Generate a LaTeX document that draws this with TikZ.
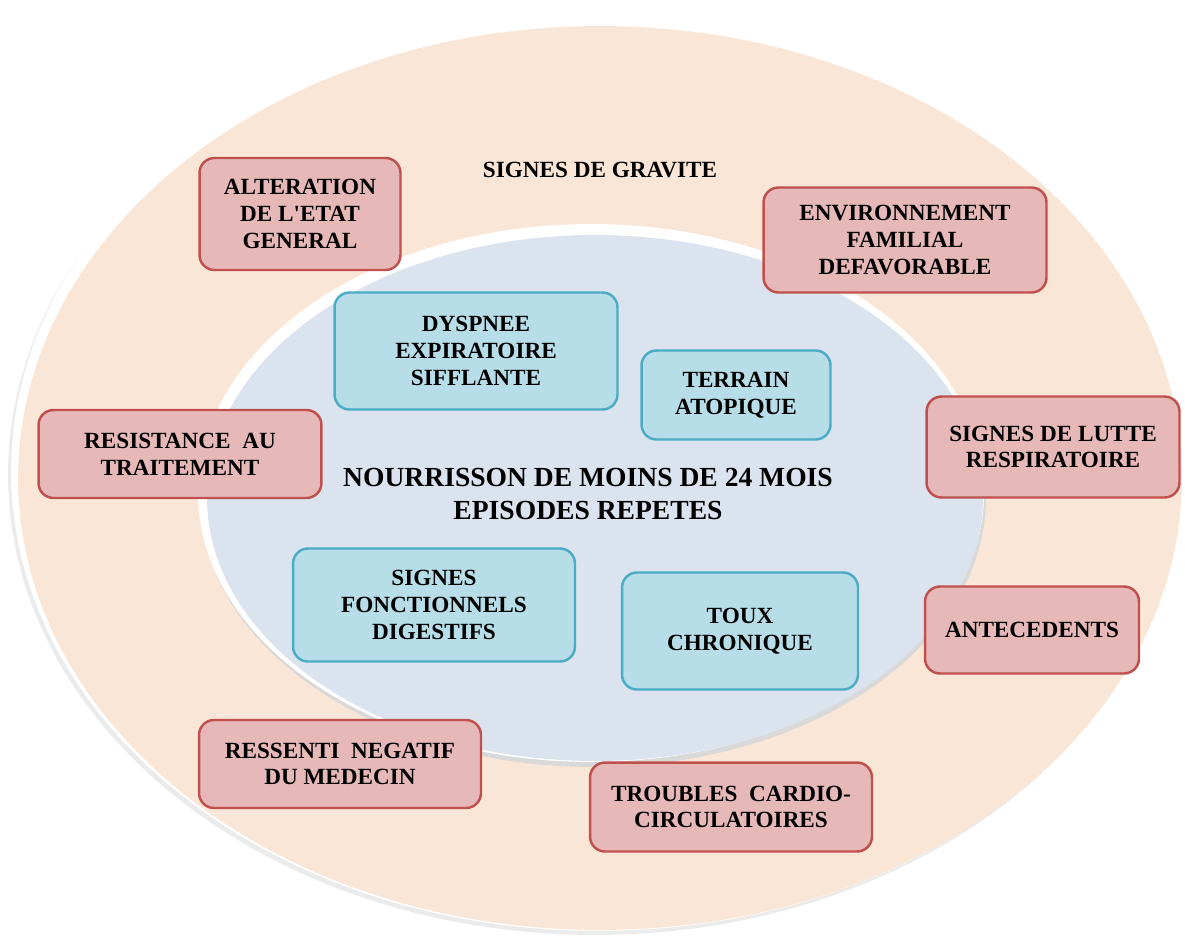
\documentclass[tikz,border=0pt]{standalone}
\usepackage{fontspec}
\setmainfont{Liberation Serif}
\usepackage{xcolor}

\definecolor{peche}{HTML}{FAE6D6}
\definecolor{grisbleu}{HTML}{DAE3EE}
\definecolor{rougefond}{HTML}{E6B9B8}
\definecolor{rougebord}{HTML}{C0504D}
\definecolor{bleufond}{HTML}{B7DEE8}
\definecolor{bleubord}{HTML}{4BACC6}

\begin{document}
\begin{tikzpicture}[x=0.02cm,y=-0.02cm,
  gravite/.style={draw=rougebord,fill=rougefond,line width=1.4pt,
    rounded corners=0.3cm,align=center,inner sep=2pt,
    font=\bfseries\fontsize{13.2}{15.2}\selectfont},
  signe/.style={draw=bleubord,fill=bleufond,line width=1.4pt,
    rounded corners=0.3cm,align=center,inner sep=2pt,
    font=\bfseries\fontsize{13.2}{15.2}\selectfont}]
 \useasboundingbox (0,0) rectangle (1185,939);
 \begin{scope}
  \fill[black!8] (595,475) ellipse [x radius=11.74cm, y radius=9.2cm];
  \fill[white] (598,471) ellipse [x radius=11.74cm, y radius=9.2cm];
  \fill[peche] (600,478) ellipse [x radius=11.64cm, y radius=9.04cm];
  \node[font=\bfseries\fontsize{13.2}{15}\selectfont] (titre) at (600,170) {SIGNES DE GRAVITE};
 \end{scope}
 \begin{scope}
  \fill[black!15] (593,498) ellipse [x radius=7.86cm, y radius=5.38cm];
  \fill[white] (591,493) ellipse [x radius=7.86cm, y radius=5.38cm];
  \fill[grisbleu] (595,498) ellipse [x radius=7.76cm, y radius=5.26cm];
  \node[align=center,font=\bfseries\fontsize{15.7}{18.8}\selectfont] (centre) at (588,494)
    {NOURRISSON DE MOINS DE 24 MOIS\\EPISODES REPETES};
 \end{scope}
 \node[gravite,minimum width=4.02cm,minimum height=2.24cm] (alteration) at (300,214) {ALTERATION\\DE L\textquotesingle ETAT\\GENERAL};
 \node[gravite,minimum width=5.66cm,minimum height=2.1cm] (environnement) at (905,240) {ENVIRONNEMENT\\FAMILIAL\\DEFAVORABLE};
 \node[gravite,minimum width=5.66cm,minimum height=1.76cm] (resistance) at (180,454) {RESISTANCE\ \ AU\\TRAITEMENT};
 \node[gravite,minimum width=5.06cm,minimum height=2.02cm] (lutte) at (1053,447) {SIGNES DE LUTTE\\RESPIRATOIRE};
 \node[gravite,minimum width=4.28cm,minimum height=1.74cm] (antecedents) at (1032,630) {ANTECEDENTS};
 \node[gravite,minimum width=5.64cm,minimum height=1.76cm] (ressenti) at (340,764) {RESSENTI\ \ NEGATIF\\DU MEDECIN};
 \node[gravite,minimum width=5.64cm,minimum height=1.78cm] (troubles) at (731,807) {TROUBLES\ \ CARDIO-\\CIRCULATOIRES};
 \node[signe,minimum width=5.66cm,minimum height=2.34cm] (dyspnee) at (476,351) {DYSPNEE\\EXPIRATOIRE\\SIFFLANTE};
 \node[signe,minimum width=3.78cm,minimum height=1.78cm] (terrain) at (736,395) {TERRAIN\\ATOPIQUE};
 \node[signe,minimum width=5.64cm,minimum height=2.26cm] (digestif) at (434,605) {SIGNES\\FONCTIONNELS\\DIGESTIFS};
 \node[signe,minimum width=4.72cm,minimum height=2.34cm] (toux) at (740,631) {TOUX\\CHRONIQUE};
\end{tikzpicture}
\end{document}
